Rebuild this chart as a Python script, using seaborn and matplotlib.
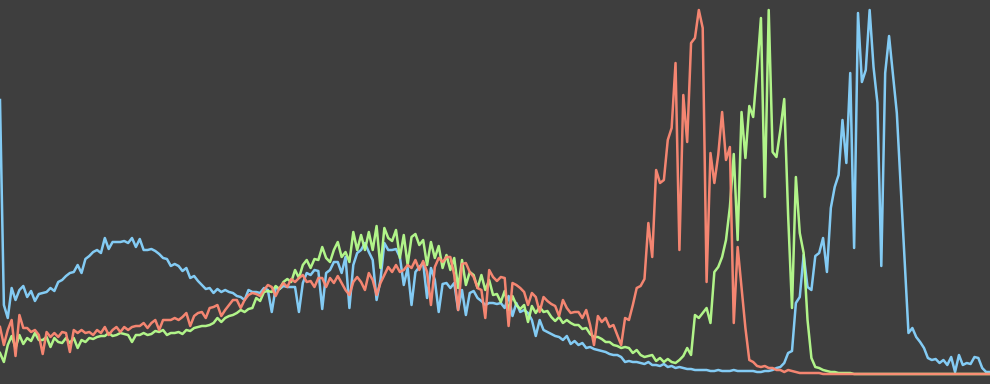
import numpy as np
import pandas as pd
import matplotlib
matplotlib.use("Agg")
import matplotlib.pyplot as plt
import seaborn as sns

bins = list(range(256))

blue = [274, 69, 56, 86, 74, 84, 88, 77, 83, 73, 80, 81, 82, 86, 83, 92, 94, 98, 101, 102,
        109, 101, 115, 118, 122, 124, 121, 136, 125, 132, 132, 132, 133, 131, 136, 127, 135, 124, 124, 125,
        123, 120, 116, 115, 108, 110, 108, 103, 106, 96, 98, 93, 89, 85, 86, 81, 85, 82, 84, 82,
        81, 78, 77, 74, 84, 82, 82, 81, 86, 84, 62, 86, 85, 88, 87, 87, 87, 62, 91, 101,
        99, 104, 103, 65, 101, 104, 112, 112, 101, 117, 66, 109, 121, 124, 131, 122, 114, 74, 94, 131,
        124, 124, 125, 117, 89, 106, 69, 102, 107, 111, 76, 106, 94, 62, 90, 91, 86, 91, 64, 84,
        59, 81, 83, 76, 73, 69, 71, 71, 70, 71, 66, 78, 58, 71, 62, 64, 61, 54, 38, 54,
        44, 42, 40, 38, 37, 34, 38, 30, 33, 29, 31, 26, 27, 25, 24, 23, 22, 20, 19, 19,
        17, 12, 13, 12, 12, 11, 10, 12, 9, 9, 8, 10, 7, 8, 6, 7, 6, 5, 5, 4,
        4, 4, 4, 3, 3, 4, 3, 3, 3, 4, 3, 3, 3, 3, 3, 2, 2, 3, 3, 4,
        6, 7, 11, 21, 23, 71, 77, 119, 87, 84, 118, 121, 136, 102, 166, 187, 199, 254, 211, 301,
        126, 361, 292, 304, 364, 307, 271, 108, 301, 338, 299, 261, 187, 114, 41, 46, 37, 32, 26, 16,
        14, 15, 11, 14, 9, 17, 2, 19, 9, 11, 10, 17, 16, 6, 2, 2]

red = [47, 29, 44, 54, 18, 59, 46, 46, 42, 44, 39, 20, 42, 37, 41, 37, 42, 41, 22, 44,
       41, 44, 41, 42, 39, 44, 41, 47, 39, 44, 47, 42, 47, 44, 47, 48, 48, 51, 46, 51,
       54, 44, 54, 54, 54, 56, 54, 57, 61, 48, 58, 61, 62, 56, 66, 67, 69, 58, 64, 69,
       74, 74, 66, 74, 79, 81, 80, 78, 84, 89, 87, 78, 86, 91, 87, 95, 92, 96, 99, 92,
       93, 87, 96, 96, 87, 96, 91, 98, 91, 84, 79, 92, 97, 92, 84, 101, 94, 79, 91, 99,
       107, 102, 109, 102, 104, 109, 106, 114, 104, 113, 102, 69, 107, 116, 112, 117, 117, 99, 64, 110,
       111, 102, 97, 86, 84, 56, 104, 97, 93, 97, 96, 48, 91, 89, 86, 82, 69, 81, 77, 62,
       77, 73, 70, 68, 58, 74, 66, 61, 62, 62, 56, 64, 49, 29, 58, 52, 56, 47, 49, 39,
       29, 56, 54, 69, 86, 88, 95, 151, 117, 204, 191, 194, 234, 246, 311, 124, 279, 232, 331, 336,
       364, 346, 92, 221, 191, 219, 262, 214, 227, 51, 127, 87, 46, 14, 12, 8, 7, 8, 6, 6,
       4, 4, 2, 4, 3, 2, 1, 1, 1, 1, 1, 1, 0, 0, 0, 0, 0, 0, 0, 0,
       0, 0, 0, 0, 0, 0, 0, 0, 0, 0, 0, 0, 0, 0, 0, 0, 0, 0, 0, 0,
       0, 0, 0, 0, 0, 0, 0, 0, 0, 0, 0, 0, 0, 0, 0, 0]

green = [21, 12, 29, 38, 26, 39, 30, 36, 33, 41, 34, 34, 37, 27, 36, 32, 31, 36, 31, 36,
         26, 34, 32, 36, 35, 37, 38, 38, 41, 38, 39, 41, 40, 39, 32, 39, 39, 41, 39, 40,
         43, 42, 44, 39, 41, 41, 42, 40, 44, 43, 46, 47, 48, 48, 49, 51, 56, 52, 56, 58,
         59, 61, 64, 62, 65, 66, 76, 73, 82, 83, 82, 88, 85, 92, 95, 92, 104, 96, 109, 114,
         106, 115, 114, 127, 116, 112, 124, 132, 117, 122, 112, 142, 124, 139, 124, 142, 124, 148, 106, 146,
         136, 133, 144, 116, 139, 109, 137, 140, 129, 134, 109, 132, 116, 128, 106, 119, 104, 116, 86, 114,
         89, 102, 99, 86, 99, 84, 94, 79, 80, 72, 83, 64, 78, 69, 65, 69, 52, 68, 61, 67,
         62, 63, 57, 53, 57, 51, 54, 51, 49, 49, 45, 46, 40, 37, 37, 35, 32, 32, 29, 28,
         26, 27, 26, 21, 24, 19, 17, 18, 19, 13, 16, 12, 15, 12, 11, 14, 18, 26, 19, 59,
         56, 61, 66, 51, 102, 107, 117, 134, 167, 220, 134, 262, 216, 268, 257, 304, 356, 177, 364, 222,
         217, 244, 275, 159, 66, 197, 141, 121, 54, 16, 7, 6, 4, 3, 2, 2, 1, 1, 1, 1,
         0, 0, 0, 0, 0, 0, 0, 0, 0, 0, 0, 0, 0, 0, 0, 0, 0, 0, 0, 0,
         0, 0, 0, 0, 0, 0, 0, 0, 0, 0, 0, 0, 0, 0, 0, 0]

channels = ["Blue", "Green", "Red"]
colors = {"Blue": "#88d4ff", "Green": "#b8ff8e", "Red": "#ff8a74"}

df = pd.concat([
    pd.DataFrame({"bin": bins, "count": blue, "channel": "Blue"}),
    pd.DataFrame({"bin": bins, "count": green, "channel": "Green"}),
    pd.DataFrame({"bin": bins, "count": red, "channel": "Red"}),
], ignore_index=True)

bg = "#3e3e3e"
fig = plt.figure(figsize=(9.9, 3.84), dpi=100, facecolor=bg)
ax = fig.add_axes([0, 0, 1, 1])
ax.set_facecolor(bg)

sns.lineplot(data=df, x="bin", y="count", hue="channel", hue_order=channels,
             palette=colors, legend=False, linewidth=1.8, alpha=0.95,
             estimator=None, ax=ax)

ax.set_xlim(0, 255)
ax.set_ylim(-10, 374)
ax.axis("off")

fig.savefig("out.png", dpi=100, facecolor=bg)
